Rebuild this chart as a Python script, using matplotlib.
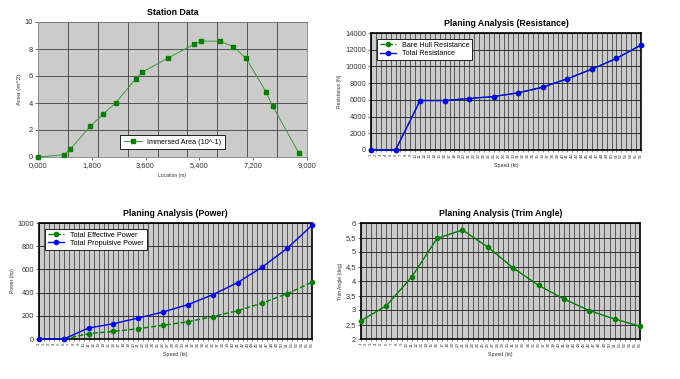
import numpy as np
import matplotlib
matplotlib.use("Agg")
import matplotlib.pyplot as plt
from matplotlib.ticker import FixedLocator, MultipleLocator

plt.rcParams['font.family'] = ['Liberation Sans', 'DejaVu Sans']

# ---------------- data ----------------
station_x = [0, 872, 1084, 1744, 2191, 2605, 3265, 3488, 4360, 5221, 5456, 6093, 6540, 6965, 7625, 7849, 8721]
station_area = [0.0, 0.17, 0.6, 2.26, 3.2, 4.02, 5.78, 6.28, 7.34, 8.36, 8.58, 8.58, 8.16, 7.30, 4.84, 3.77, 0.32]
station_xticks = [0, 1800, 3600, 5400, 7200, 9000]
station_xticklabels = ["0,000", "1,800", "3,600", "5,400", "7,200", "9,000"]

speed_labels = [str(i) for i in range(1, 57)]
point_cats = [1, 6, 11, 16, 21, 26, 31, 36, 41, 46, 51, 56]

bare_hull_res = [0, 0, 5920, 5920, 6160, 6400, 6840, 7520, 8520, 9680, 10960, 12560]
total_res = [0, 0, 5920, 5920, 6160, 6400, 6840, 7520, 8520, 9680, 10960, 12560]

eff_power = [np.nan, 0, 46, 66, 89, 118, 149, 193, 244, 310, 391, 489]
prop_power = [0, 0, 95, 132, 181, 233, 296, 382, 486, 621, 782, 980]

trim = [2.63, 3.15, 4.14, 5.47, 5.76, 5.17, 4.45, 3.85, 3.38, 2.98, 2.69, 2.44]
trim_yticks = [2, 2.5, 3, 3.5, 4, 4.5, 5, 5.5, 6]
trim_yticklabels = ["2", "2,5", "3", "3,5", "4", "4,5", "5", "5,5", "6"]

# ---------------- figure ----------------
W, H = 680, 379
fig = plt.figure(figsize=(W / 100, H / 100), dpi=100)

def ax_px(l, t, r, b):
    return fig.add_axes([l / W, 1 - b / H, (r - l) / W, (b - t) / H])

BG = '#cbcbcb'
GREEN = '#008000'
BLUE = '#0000ff'
TFS = 5.4
TITLE_FS = 6.3

# ---- Station data ----
ax1 = ax_px(38, 22, 307, 157)
ax1.set_facecolor(BG)
ax1.plot(station_x, station_area, color='#3a9a3a', lw=0.7, marker='s', ms=3.2,
         mfc=GREEN, mec=GREEN, label='Immersed Area (10^-1)', zorder=3, clip_on=False)
ax1.set_xlim(0, 9000)
ax1.set_ylim(0, 10)
ax1.xaxis.set_major_locator(FixedLocator(station_xticks))
ax1.set_xticklabels(station_xticklabels)
ax1.xaxis.set_minor_locator(MultipleLocator(1000))
ax1.yaxis.set_major_locator(MultipleLocator(2))
ax1.grid(which='minor', axis='x', color='#404040', lw=0.6)
ax1.grid(which='major', axis='y', color='#404040', lw=0.6)
ax1.tick_params(which='minor', length=0)
ax1.tick_params(labelsize=TFS, length=2, width=0.5, pad=1.5, colors='#333333')
for s in ax1.spines.values():
    s.set_color('#808080'); s.set_linewidth(0.6)
ax1.set_title('Station Data', fontsize=TITLE_FS, fontweight='bold', pad=5)
ax1.set_ylabel('Area (m^2)', fontsize=4.6, labelpad=2, color='#333333')
ax1.set_xlabel('Location (m)', fontsize=3.6, labelpad=3, color='#333333')
leg = ax1.legend(loc='lower center', bbox_to_anchor=(0.5, 0.03), fontsize=5.2,
                 frameon=True, fancybox=False, edgecolor='black', framealpha=1,
                 handlelength=2.5, borderpad=0.5)
leg.get_frame().set_linewidth(0.6)

def planing_axes(rect, title, ylabel, ylim, ystep):
    ax = ax_px(*rect)
    ax.set_facecolor(BG)
    ax.set_xlim(1, 56)
    ax.set_ylim(*ylim)
    ax.set_xticks(range(1, 57))
    ax.set_xticklabels(speed_labels, rotation=90, fontsize=3.2)
    ax.yaxis.set_major_locator(MultipleLocator(ystep))
    ax.grid(axis='x', color='#1a1a1a', lw=0.45)
    ax.grid(axis='y', color='#1a1a1a', lw=0.6)
    ax.tick_params(axis='y', labelsize=TFS, length=2, width=0.5, pad=1.5, colors='#333333')
    ax.tick_params(axis='x', length=1.5, width=0.4, pad=1, colors='#333333')
    for s in ax.spines.values():
        s.set_color('black'); s.set_linewidth(1.2)
    ax.set_title(title, fontsize=TITLE_FS, fontweight='bold', pad=5)
    ax.set_ylabel(ylabel, fontsize=3.6, labelpad=2, color='#333333')
    ax.set_xlabel('Speed (kt)', fontsize=3.8, labelpad=3, color='#333333')
    return ax

# ---- Resistance ----
ax2 = planing_axes((371, 33, 641, 150), 'Planing Analysis (Resistance)', 'Resistance (N)', (0, 14000), 2000)
ax2.plot(point_cats, bare_hull_res, color=GREEN, ls='--', lw=1.0, marker='o', ms=3,
         label='Bare Hull Resistance', zorder=3, clip_on=False)
ax2.plot(point_cats, total_res, color=BLUE, lw=1.0, marker='o', ms=3,
         label='Total Resistance', zorder=4, clip_on=False)
leg = ax2.legend(loc='upper left', bbox_to_anchor=(0.01, 0.98), fontsize=5.2, frameon=True,
                 fancybox=False, edgecolor='black', framealpha=1, handlelength=2.2,
                 borderpad=0.4, labelspacing=0.15)
leg.get_frame().set_linewidth(0.6)

# ---- Power ----
ax3 = planing_axes((39, 223, 312, 339), 'Planing Analysis (Power)', 'Power (hp)', (0, 1000), 200)
ax3.plot(point_cats, eff_power, color=GREEN, ls='--', lw=1.0, marker='o', ms=3,
         label='Total Effective Power', zorder=3, clip_on=False)
ax3.plot(point_cats, prop_power, color=BLUE, lw=1.0, marker='o', ms=3,
         label='Total Propulsive Power', zorder=4, clip_on=False)
leg = ax3.legend(loc='upper left', bbox_to_anchor=(0.01, 0.98), fontsize=5.2, frameon=True,
                 fancybox=False, edgecolor='black', framealpha=1, handlelength=2.2,
                 borderpad=0.4, labelspacing=0.15)
leg.get_frame().set_linewidth(0.6)

# ---- Trim angle ----
ax4 = planing_axes((361, 223, 640, 339), 'Planing Analysis (Trim Angle)', 'Trim Angle (deg)', (2, 6), 0.5)
ax4.set_yticks(trim_yticks)
ax4.set_yticklabels(trim_yticklabels)
ax4.plot(point_cats, trim, color=GREEN, lw=1.0, marker='o', ms=3, zorder=3, clip_on=False)

fig.savefig('out.png', dpi=100, facecolor='white')
